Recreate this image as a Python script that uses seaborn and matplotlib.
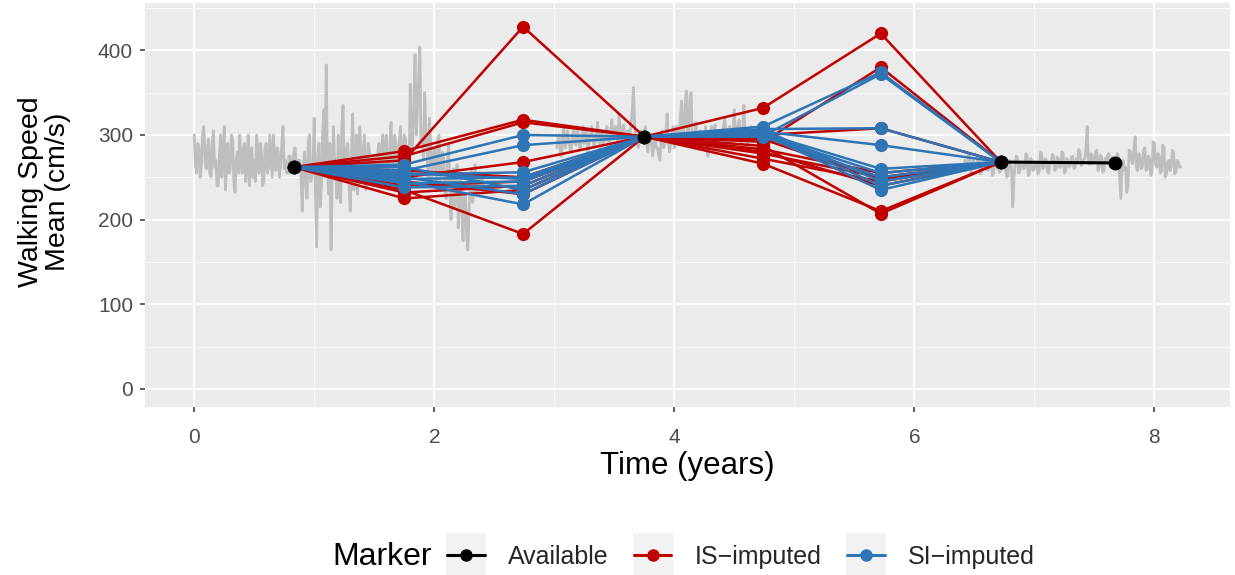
import numpy as np
import pandas as pd
import matplotlib
matplotlib.use("Agg")
import matplotlib.pyplot as plt
import seaborn as sns
from matplotlib.legend_handler import HandlerLine2D
from matplotlib.patches import Rectangle
from matplotlib.lines import Line2D

# ---------------------------------------------------------------- data
# continuous sensor trace (walking speed, cm/s), sampled every 0.01 years
trace_step = 0.01
trace1_start = 0.00
trace1 = [300, 265, 255, 290, 285, 250, 265, 300, 310, 270,
          260, 285, 295, 255, 250, 290, 305, 262, 270, 240,
          240, 275, 300, 250, 275, 310, 235, 265, 290, 255,
          260, 300, 295, 245, 232, 270, 280, 255, 300, 265,
          255, 285, 290, 245, 265, 300, 240, 270, 285, 250,
          270, 245, 300, 280, 255, 290, 280, 240, 245, 285,
          290, 255, 262, 300, 275, 250, 300, 265, 258, 285,
          280, 250, 265, 290, 310, 260, 270, 255, 255, 275,
          275, 255, 262, 280, 285, 265, 258, 270, 270, 250,
          210, 265, 280, 240, 225, 290, 300, 245, 250, 270,
          320, 230, 168, 275, 290, 215, 240, 300, 330, 250,
          383, 260, 230, 290, 164, 250, 310, 270, 255, 225,
          300, 245, 220, 310, 335, 260, 245, 285, 290, 240,
          210, 275, 325, 235, 260, 300, 230, 250, 310, 270,
          250, 285, 300, 235, 240, 290, 280, 250, 255, 275,
          275, 250, 245, 280, 290, 255, 260, 300, 285, 265,
          300, 240, 250, 290, 315, 260, 265, 300, 290, 245,
          275, 295, 310, 255, 260, 300, 295, 270, 285, 260,
          360, 280, 290, 340, 395, 300, 330, 370, 404, 290,
          300, 270, 350, 310, 280, 240, 320, 290, 250, 270,
          285, 260, 240, 295, 300, 245, 255, 280, 270, 230,
          225, 270, 290, 235, 200, 250, 260, 215, 235, 265,
          190, 240, 250, 205, 175, 230, 230, 180, 164, 210,
          245, 260, 220, 240, 265, 230, 235, 255, 255, 240,
          250, 235, 240]
trace2_start = 3.02
trace2 = [285, 295, 300, 280, 275, 300, 310, 285, 290, 305,
          295, 285, 280, 300, 305, 290, 288, 310, 300, 285,
          285, 300, 310, 290, 295, 305, 278, 290, 300, 310,
          305, 285, 290, 300, 315, 295, 285, 305, 300, 290,
          295, 305, 310, 285, 290, 300, 318, 295, 300, 310,
          305, 290, 325, 300, 295, 310, 312, 290, 300, 305,
          290, 300, 315, 330, 356, 310, 300, 290, 285, 300,
          305, 295, 290, 305, 310, 290, 280, 300, 298, 290,
          275, 290, 300, 285, 285, 275, 270, 295, 305, 285,
          290, 300, 325, 295, 280, 290, 300, 310, 285, 295,
          310, 300, 295, 320, 340, 300, 305, 335, 352, 300,
          300, 345, 350, 295, 290, 300, 315, 290, 295, 305,
          305, 290, 285, 300, 310, 290, 275, 295, 300, 310,
          290, 305, 312, 290, 282, 300, 305, 290, 295, 310,
          320, 300, 290, 305, 310, 295, 285, 310, 330, 300,
          300, 310, 318, 295, 290, 305, 335, 300, 305, 290,
          295, 305, 310, 300, 300]
trace3_start = 6.42
trace3 = [270, 258, 262, 278, 275, 255, 258, 270, 268, 260,
          263, 275, 272, 254, 256, 268, 266, 272, 270, 258,
          260, 270, 268, 252, 255, 275, 272, 260, 264, 256,
          258, 272, 270, 260, 262, 250, 252, 270, 268, 260,
          215, 250, 265, 275, 272, 255, 258, 268, 266, 260,
          262, 278, 275, 252, 255, 272, 270, 258, 260, 265,
          268, 254, 257, 280, 278, 260, 262, 272, 270, 256,
          255, 268, 266, 277, 275, 258, 260, 274, 272, 262,
          262, 280, 278, 255, 258, 272, 270, 262, 265, 274,
          275, 260, 262, 272, 270, 283, 280, 264, 266, 270,
          272, 285, 310, 268, 265, 278, 276, 266, 268, 280,
          282, 258, 262, 276, 274, 256, 258, 272, 270, 276,
          278, 262, 264, 274, 272, 264, 266, 278, 275, 250,
          225, 262, 270, 258, 262, 232, 240, 282, 280, 270,
          266, 285, 298, 262, 258, 278, 275, 260, 263, 282,
          285, 258, 260, 275, 272, 252, 255, 292, 290, 265,
          262, 278, 275, 255, 258, 288, 285, 250, 254, 268,
          270, 258, 262, 282, 280, 254, 256, 270, 268, 262,
          262]

# yearly visits: observed marker values
visit_times = [0.83, 1.75, 2.74, 3.75, 4.74, 5.72, 6.72, 7.67]
available_times = [0.83, 3.75, 6.72, 7.67]
available_values = [262, 298, 268, 267]

# imputed values at the missing visits (1.75, 2.74, 4.74, 5.72), one row per draw
is_imputed = [
    [270, 428, 300, 308],
    [281, 318, 332, 420],
    [275, 315, 292, 380],
    [235, 183, 287, 207],
    [250, 268, 283, 255],
    [240, 245, 278, 250],
    [232, 240, 272, 245],
    [225, 235, 266, 210],
    [258, 250, 295, 248],
    [245, 230, 280, 240],
]
si_imputed = [
    [265, 300, 310, 374],
    [258, 288, 307, 308],
    [253, 256, 304, 288],
    [248, 250, 302, 260],
    [243, 245, 300, 255],
    [238, 240, 298, 250],
    [262, 235, 306, 245],
    [250, 230, 303, 240],
    [245, 218, 301, 235],
    [255, 248, 299, 372],
]

method_labels = ["Available", "IS\u2212imputed", "SI\u2212imputed"]
method_colors = dict(zip(method_labels, ["black", "#C00000", "#2E75B6"]))

# ---------------------------------------------------------------- tables
trace_frames = []
for seg, (start, vals) in enumerate([(trace1_start, trace1),
                                     (trace2_start, trace2),
                                     (trace3_start, trace3)]):
    t = start + trace_step * np.arange(len(vals))
    trace_frames.append(pd.DataFrame({"time": t, "speed": vals, "segment": seg}))
trace_df = pd.concat(trace_frames, ignore_index=True)

# each imputation draw forms a path through the observed visits around the gaps
path_times = visit_times[:7]
rows = []
for method, draws in [(method_labels[1], is_imputed), (method_labels[2], si_imputed)]:
    for d, (a, b, c, e) in enumerate(draws):
        vals = [available_values[0], a, b, available_values[1], c, e, available_values[2]]
        for t, v in zip(path_times, vals):
            rows.append({"time": t, "speed": v, "method": method, "draw": f"{method}-{d}"})
imp_df = pd.DataFrame(rows)

avail_df = pd.DataFrame({"time": available_times, "speed": available_values})

# ---------------------------------------------------------------- style
sns.set_theme(style="darkgrid", rc={
    "axes.facecolor": "#EBEBEB",
    "grid.color": "white",
    "axes.edgecolor": "none",
})
plt.rcParams["font.family"] = ["Liberation Sans", "DejaVu Sans"]

fig = plt.figure(figsize=(12.35, 5.75), dpi=100)
W, H = 1235, 575
ax = fig.add_axes([145 / W, 1 - 407 / H, (1230 - 145) / W, (407 - 3) / H])

# grey trace
sns.lineplot(data=trace_df, x="time", y="speed", units="segment", estimator=None,
             color="#BEBEBE", linewidth=2.0, sort=False, ax=ax, legend=False, zorder=2)

# imputation paths
sns.lineplot(data=imp_df, x="time", y="speed", hue="method", units="draw",
             estimator=None, sort=False, palette=method_colors,
             hue_order=method_labels[1:], marker="o", markersize=9.5,
             markeredgewidth=0, linewidth=1.8, ax=ax, legend=False, zorder=3)

# observed visits: points, and the line between consecutive observed visits
sns.lineplot(data=avail_df.iloc[2:], x="time", y="speed", color="black",
             linewidth=2.2, estimator=None, ax=ax, legend=False, zorder=4)
sns.scatterplot(data=avail_df, x="time", y="speed", color="black", s=100,
                linewidth=0, ax=ax, legend=False, zorder=5)

# ---------------------------------------------------------------- axes
ax.set_xlim(-0.41, 8.63)
ax.set_ylim(-21.5, 456)
ax.set_xticks([0, 2, 4, 6, 8])
ax.set_xticks([1, 3, 5, 7], minor=True)
ax.set_yticks([0, 100, 200, 300, 400])
ax.set_yticks([50, 150, 250, 350, 450], minor=True)
ax.grid(which="major", color="white", linewidth=1.5)
ax.grid(which="minor", color="white", linewidth=0.75)
ax.tick_params(which="major", bottom=True, left=True, length=3.6, width=1.1,
               color="#333333", labelcolor="#4D4D4D", labelsize=15)
ax.tick_params(which="minor", length=0)
ax.tick_params(axis="x", pad=11.5)
ax.tick_params(axis="y", pad=5)
ax.set_xlabel("")
ax.set_ylabel("")
for s in ax.spines.values():
    s.set_visible(False)

fig.text(687.5 / W, 1 - 466 / H, "Time (years)", ha="center", va="center",
         fontsize=22.5, color="black")
fig.text(45 / W, 1 - 192 / H, "Walking Speed\nMean (cm/s)", ha="center", va="center",
         rotation=90, fontsize=20.5, color="black", linespacing=1.05,
         multialignment="center")


# ---------------------------------------------------------------- legend
class KeyBox(HandlerLine2D):
    def create_artists(self, legend, orig_handle, xdescent, ydescent,
                       width, height, fontsize, trans):
        arts = super().create_artists(legend, orig_handle, xdescent, ydescent,
                                      width, height, fontsize, trans)
        extra = 0.55 * fontsize
        pad = 0.05 * fontsize
        bg = Rectangle((-xdescent - pad, -ydescent - extra), width + 2 * pad,
                       height + 2 * extra, facecolor="#F2F2F2", edgecolor="none",
                       transform=trans)
        return [bg] + list(arts)


handles = [Line2D([], [], color=method_colors[m], marker="o", markersize=9,
                  markeredgewidth=0, linewidth=2.2) for m in method_labels]
leg = fig.legend(handles, method_labels, loc="center left",
                 bbox_to_anchor=(447 / W, 1 - 557 / H), ncol=3, frameon=False,
                 fontsize=18, handlelength=1.5, handletextpad=0.95,
                 columnspacing=1.0, borderpad=0, borderaxespad=0,
                 handler_map={Line2D: KeyBox()})
fig.text(432 / W, 1 - 557 / H, "Marker", ha="right", va="center",
         fontsize=23, color="black")

fig.savefig("out.png", dpi=100)
